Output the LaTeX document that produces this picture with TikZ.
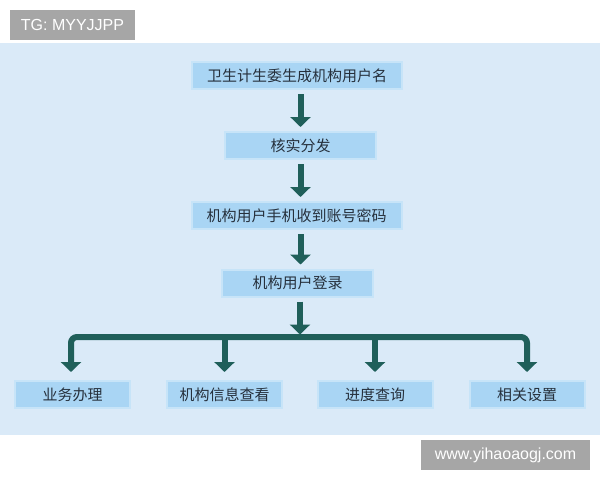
\documentclass[tikz,border=0pt]{standalone}
\usepackage{fontspec}
\setmainfont{Liberation Sans}
\newfontfamily\cjk{Noto Sans CJK SC}
\usetikzlibrary{arrows.meta,calc}
\definecolor{panel}{HTML}{DAEAF8}
\definecolor{boxblue}{HTML}{A9D5F4}
\definecolor{arrowc}{HTML}{1F5F5A}
\definecolor{tagc}{HTML}{A6A6A6}
\definecolor{txtc}{HTML}{26303C}
\begin{document}
\begin{tikzpicture}[x=1pt,y=-1pt,
  stepbox/.style={draw=white!35!boxblue,line width=2pt,fill=boxblue,inner sep=0pt,
    minimum height=27pt,font=\cjk\fontsize{15}{15}\selectfont,text=txtc},
  wide/.style={stepbox,minimum width=210pt},
  mid/.style={stepbox,minimum width=151pt},
  small/.style={stepbox,minimum width=115pt},
  arr/.style={draw=arrowc,line width=6pt,-{Triangle[width=20pt,length=10pt]}},
  barl/.style={draw=arrowc,line width=6pt,rounded corners=6pt,
    {Triangle[width=20pt,length=10pt]}-{Triangle[width=20pt,length=10pt]}},
  tag/.style={fill=tagc,text=white,inner sep=0pt,font=\fontsize{16}{16}\selectfont}]
\useasboundingbox (0,0) rectangle (600,480);
\fill[white] (0,0) rectangle (600,480);
\fill[panel] (0,43) rectangle (600,435);
\node[tag,minimum width=125pt,minimum height=30pt] (tg) at (72.5,25) {TG: MYYJJPP};
\node[tag,minimum width=169pt,minimum height=30pt] (www) at (505.5,455) {www.yihaoaogj.com};
\node[wide] (b1) at (297,75.5) {卫生计生委生成机构用户名};
\node[mid] (b2) at (300.5,145.5) {核实分发};
\node[wide] (b3) at (296.5,215.5) {机构用户手机收到账号密码};
\node[mid] (b4) at (297.5,283) {机构用户登录};
\node[small] (ba) at (72.5,394.5) {业务办理};
\node[small] (bb) at (224.5,394.5) {机构信息查看};
\node[small] (bc) at (375,394.5) {进度查询};
\node[small] (bd) at (527,394.5) {相关设置};
\coordinate (j) at (300,337);
\draw[arr] ($(b1.south)+(3.5,4)$) -- ($(b2.north)+(0,-4)$);
\draw[arr] ($(b2.south)+(0,4)$) -- ($(b3.north -| b2.north)+(0,-4)$);
\draw[arr] ($(b3.south -| b2.south)+(0,4)$) -- ($(b4.north -| b2.north)+(0,-4)$);
\draw[arr] ($(b4.south -| j)+(0,4)$) -- ($(j)+(0,-2.5)$);
\draw[barl] ($(ba.north)+(-1.5,-8)$) |- (j) -| ($(bd.north)+(0,-8)$);
\draw[arr] (j -| bb.north) -- ($(bb.north)+(0,-8)$);
\draw[arr] (j -| bc.north) -- ($(bc.north)+(0,-8)$);
\end{tikzpicture}
\end{document}
